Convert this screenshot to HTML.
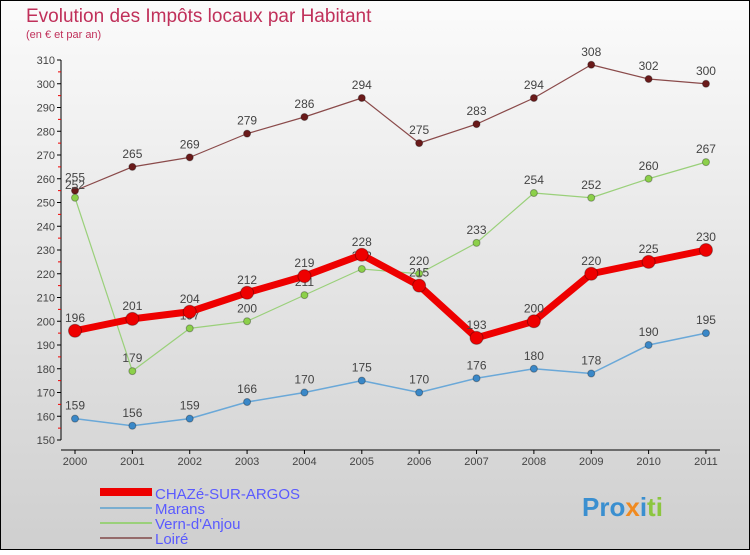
<!DOCTYPE html>
<html><head><meta charset="utf-8"><style>
body{margin:0;}
#c{width:750px;height:550px;position:relative;}
svg text{font-family:"Liberation Sans",sans-serif;}
</style></head><body>
<div id="c">
<svg id="s" width="750" height="550" xmlns="http://www.w3.org/2000/svg">
<defs><linearGradient id="bg" x1="0" y1="0" x2="0" y2="1"><stop offset="0" stop-color="#fbfbfb"/><stop offset="1" stop-color="#cfcfcf"/></linearGradient></defs>
<rect x="0.5" y="0.5" width="749" height="549" fill="url(#bg)" stroke="#000"/>
<text x="26" y="22" font-size="19" fill="#c0305a">Evolution des Impôts locaux par Habitant</text>
<text x="26" y="38" font-size="11" fill="#c0305a">(en € et par an)</text>
<g id="axes"></g>
<g id="series"></g>
<g id="legend">
<rect x="100" y="488" width="52" height="8" fill="#e00"/>
<text x="155" y="499" font-size="15" fill="#5a5aff">CHAZé-SUR-ARGOS</text>
<rect x="100" y="507" width="52" height="2" fill="#7aaed0"/>
<text x="155" y="514" font-size="15" fill="#5a5aff">Marans</text>
<rect x="100" y="522" width="52" height="2" fill="#9ad07a"/>
<text x="155" y="529" font-size="15" fill="#5a5aff">Vern-d'Anjou</text>
<rect x="100" y="537" width="52" height="2" fill="#946a6a"/>
<text x="155" y="544" font-size="15" fill="#5a5aff">Loiré</text>
</g>
<text x="582" y="516" font-size="26" font-weight="bold" fill="#3a8fd0">Pro<tspan fill="#f08a20">x</tspan><tspan fill="#3a8fd0">i</tspan><tspan fill="#8cc63f">ti</tspan></text>
</svg>
</div>
<script>
const years=["2000","2001","2002","2003","2004","2005","2006","2007","2008","2009","2010","2011"];
const chaze=[196,201,204,212,219,228,215,193,200,220,225,230];
const marans=[159,156,159,166,170,175,170,176,180,178,190,195];
const vern=[252,179,197,200,211,222,220,233,254,252,260,267];
const loire=[255,265,269,279,286,294,275,283,294,308,302,300];
const yTicks=[150,160,170,180,190,200,210,220,230,240,250,260,270,280,290,300,310];
const NS="http://www.w3.org/2000/svg";
function X(i){return 75+i*57.36;}
function Y(v){return 440-(v-150)*2.375;}
function mk(t,a,p){const e=document.createElementNS(NS,t);for(const k in a)e.setAttribute(k,a[k]);p.appendChild(e);return e;}
const ax=document.getElementById('axes');
let l=mk('line',{x1:61,y1:Y(310),x2:61,y2:Y(150),stroke:'#000'},ax);


l=mk('line',{x1:61,y1:450,x2:720,y2:450,stroke:'#000'},ax);


yTicks.forEach((v,i)=>{
 mk('line',{x1:57,y1:Y(v),x2:61,y2:Y(v),stroke:'#000'},ax);
 if(i<yTicks.length-1)mk('line',{x1:58,y1:Y(v+5),x2:61,y2:Y(v+5),stroke:'#e00'},ax);
 const t=mk('text',{x:55,y:Y(v)+4,'font-size':11,fill:'#444','text-anchor':'end'},ax);
 t.textContent=v;
 
 
});
years.forEach((y,i)=>{
 mk('line',{x1:X(i),y1:450,x2:X(i),y2:454,stroke:'#000'},ax);
 const t=mk('text',{x:X(i),y:465,'font-size':11,fill:'#444','text-anchor':'middle'},ax);
 t.textContent=y;
 
 
});
const sg=document.getElementById('series');
function draw(vals,color,w,r,name,dot){
 const g=mk('g',{},sg);
 
 
 const p=mk('polyline',{points:vals.map((v,i)=>X(i)+','+Y(v)).join(' '),fill:'none',stroke:color,'stroke-width':w,'stroke-linejoin':'round'},g);
 
 
 vals.forEach((v,i)=>{
  const c=mk('circle',{cx:X(i),cy:Y(v),r:r,fill:dot,stroke:'rgba(0,0,0,0.3)'},g);
  
  
  const t=mk('text',{x:X(i),y:Y(v)-9,'font-size':12,fill:'#444','text-anchor':'middle'},g);
  t.textContent=v;
  
  
 });
}
draw(loire,'#8a4a4a',1.2,3.5,'loire','#6a1a1a');
draw(vern,'#9ad07a',1.2,3.5,'vern','#8cd04a');
draw(marans,'#6aa8d8',1.5,3.5,'marans','#3a88c8');
draw(chaze,'#e00',7,6.5,'chaze','#e00');
</script>
</body></html>
